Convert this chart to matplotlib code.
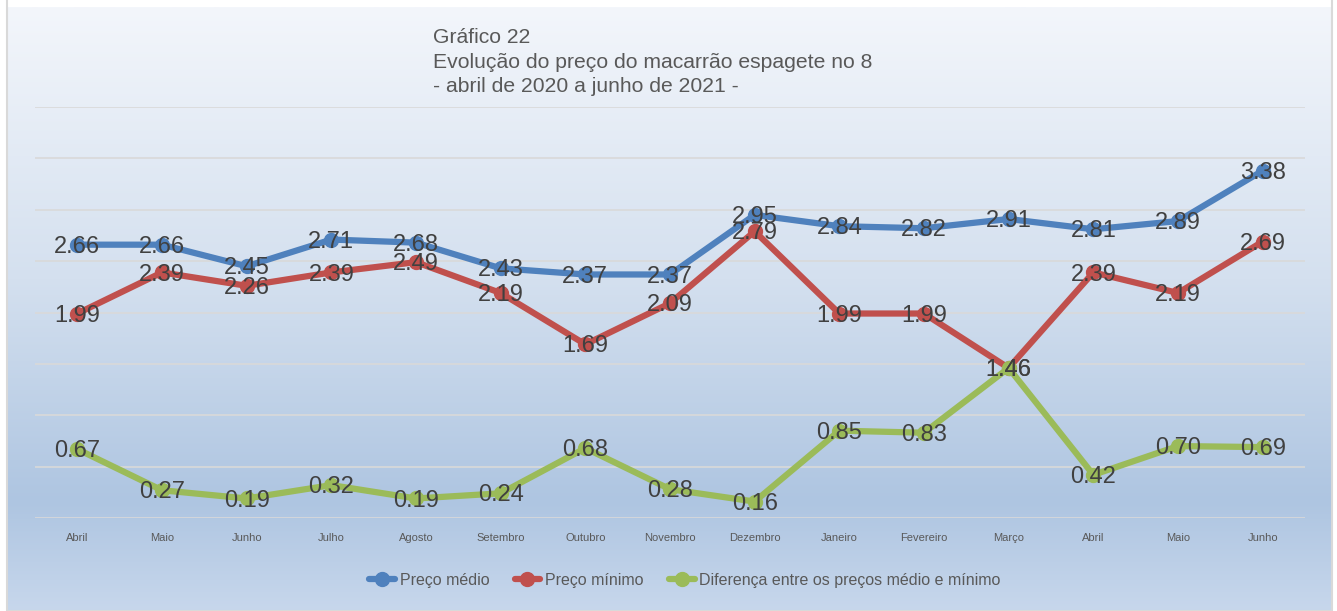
import numpy as np
import matplotlib.pyplot as plt
from matplotlib.colors import LinearSegmentedColormap
from matplotlib.patches import Rectangle

plt.rcParams['font.family'] = ['Liberation Sans', 'DejaVu Sans']

# ============== data =================
meses = ["Abril", "Maio", "Junho", "Julho", "Agosto", "Setembro", "Outubro",
         "Novembro", "Dezembro", "Janeiro", "Fevereiro", "Março", "Abril",
         "Maio", "Junho"]
preco_medio = [2.66, 2.66, 2.45, 2.71, 2.68, 2.43, 2.37, 2.37, 2.95, 2.84,
               2.82, 2.91, 2.81, 2.89, 3.38]
preco_minimo = [1.99, 2.39, 2.26, 2.39, 2.49, 2.19, 1.69, 2.09, 2.79, 1.99,
                1.99, 1.46, 2.39, 2.19, 2.69]
diferenca = [0.67, 0.27, 0.19, 0.32, 0.19, 0.24, 0.68, 0.28, 0.16, 0.85,
             0.83, 1.46, 0.42, 0.70, 0.69]

series = [
    ("Preço médio", preco_medio, "#4f81bd"),
    ("Preço mínimo", preco_minimo, "#c0504d"),
    ("Diferença entre os preços médio e mínimo", diferenca, "#9bbb59"),
]

W, H = 1337, 611
fig = plt.figure(figsize=(W / 100, H / 100), dpi=100)
fig.patch.set_facecolor("white")

# ============== gradient panel behind the chart =================
bg = fig.add_axes([7 / W, 0, (1332 - 7) / W, (H - 7) / H], zorder=0)
cmap = LinearSegmentedColormap.from_list("painel", [
    (0.0, (243 / 255, 246 / 255, 251 / 255)),
    (0.45, (212 / 255, 224 / 255, 239 / 255)),
    (0.82, (174 / 255, 197 / 255, 225 / 255)),
    (1.0, (199 / 255, 215 / 255, 236 / 255)),
])
grad = np.linspace(0, 1, 256).reshape(-1, 1)
bg.imshow(grad, aspect="auto", cmap=cmap, extent=[0, 1, 0, 1], origin="upper")
bg.set_xlim(0, 1)
bg.set_ylim(0, 1)
bg.axis("off")
bg.add_patch(Rectangle((0, 0), 1, 1.2, transform=bg.transAxes, fill=False,
                       edgecolor="#d9d9d9", linewidth=1.5, clip_on=False))

# ============== main chart =================
ax = fig.add_axes([35 / W, 1 - 518 / H, (1305 - 35) / W, (518 - 107) / H], zorder=1)
ax.patch.set_alpha(0)
x = np.arange(len(meses))

handles = []
for nome, valores, cor in series:
    h, = ax.plot(x, valores, color=cor, linewidth=4.5, marker="o",
                 markersize=10, solid_capstyle="round", label=nome)
    handles.append(h)

# value labels centred on each point
for nome, valores, cor in series:
    for xi, yi in zip(x, valores):
        ax.annotate(f"{yi:.2f}", (xi, yi), xytext=(0, -1.5), textcoords="offset points",
                    ha="center", va="center", fontsize=17, color="#404040", zorder=5)

ax.set_xlim(-0.5, len(meses) - 0.5)
ax.set_ylim(0, 4)
ax.set_yticks(np.arange(0, 4.01, 0.5))
ax.yaxis.grid(True, color="#d9d9d9", linewidth=1.2)
ax.set_axisbelow(True)
ax.tick_params(axis="y", left=False, labelleft=False)
ax.tick_params(axis="x", length=0, pad=11, labelsize=8, labelcolor="#595959")
ax.set_xticks(x)
ax.set_xticklabels(meses)
for s in ax.spines.values():
    s.set_visible(False)

fig.text(433 / W, 1 - 62 / H,
         "Gráfico 22\nEvolução do preço do macarrão espagete no 8\n- abril de 2020 a junho de 2021 -",
         ha="left", va="center", fontsize=15.2, color="#595959", linespacing=1.38)

fig.legend(handles=handles, loc="center", bbox_to_anchor=(685 / W, 1 - 580 / H),
           ncol=3, frameon=False, fontsize=11.5, handlelength=1.6,
           handletextpad=0.3, columnspacing=1.6, labelcolor="#595959")

fig.savefig("out.png", dpi=100)
